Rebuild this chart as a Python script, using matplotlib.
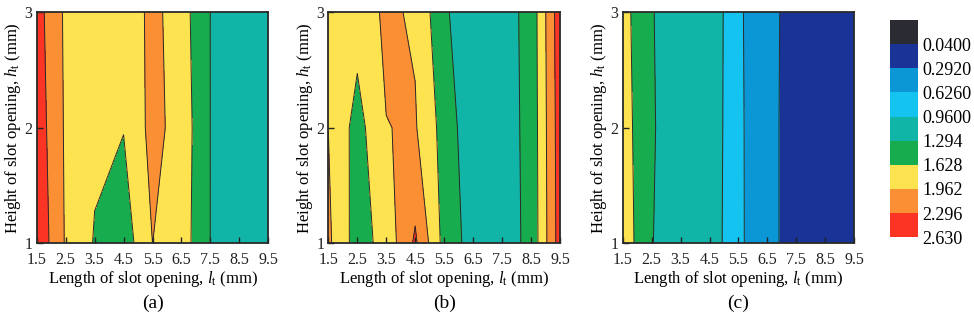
import numpy as np
import matplotlib
matplotlib.use('Agg')
import matplotlib.pyplot as plt

# Fuente tipo Times para todo el texto
plt.rcParams['font.family'] = 'Liberation Serif'
plt.rcParams['mathtext.fontset'] = 'custom'
plt.rcParams['mathtext.rm'] = 'Liberation Serif'
plt.rcParams['mathtext.it'] = 'Liberation Serif:italic'

# Ejes de la malla: longitud l_t (mm) y altura h_t (mm) de la apertura de ranura
lengths = [1.5, 2.5, 3.5, 4.5, 5.5, 6.5, 7.5, 8.5, 9.5]
heights = [1, 2, 3]

z_a = [[2.566, 1.930, 1.605, 1.44, 1.963, 1.794, 1.29, 1.10, 1.05],
       [2.492, 1.916, 1.687, 1.64, 2.069, 1.826, 1.29, 1.10, 1.05],
       [2.434, 1.904, 1.75, 1.70, 2.064, 1.773, 1.29, 1.10, 1.05]]

z_b = [[2.025, 1.478, 1.751, 2.35, 1.515, 1.153, 1.155, 1.369, 2.45],
       [1.96, 1.50, 1.955, 1.99, 1.50, 1.05, 1.15, 1.385, 2.47],
       [1.85, 1.772, 2.02, 1.92, 1.35, 1.04, 1.15, 1.40, 2.50]]

z_c = [[1.831, 1.31, 1.05, 1.16, 0.70, 0.33, 0.235, 0.15, 0.10],
       [1.782, 1.33, 1.07, 1.18, 0.70, 0.32, 0.25, 0.15, 0.10],
       [1.748, 1.32, 1.03, 1.20, 0.69, 0.314, 0.262, 0.16, 0.11]]

panels = [z_a, z_b, z_c]
panel_names = ['(a)', '(b)', '(c)']

# Niveles de la barra de color
levels = [-0.294, 0.04, 0.292, 0.626, 0.96, 1.294, 1.628, 1.962, 2.296, 2.630]
level_labels = ['0.0400', '0.2920', '0.6260', '0.9600', '1.294',
                '1.628', '1.962', '2.296', '2.630']
colors = ['#2b2b33', '#1a3396', '#0b96d6', '#14c3f0', '#10b5a8',
          '#17ad4f', '#fde350', '#fb8f34', '#fb3424']

X, Y = np.meshgrid(lengths, heights)

fig = plt.figure(figsize=(9.74, 3.2), dpi=100)
lefts = [0.0377, 0.3371, 0.6393]

for left, z, name in zip(lefts, panels, panel_names):
    ax = fig.add_axes([left, 0.2397, 0.2378, 0.7219])
    Z = np.array(z)
    cs = ax.contourf(X, Y, Z, levels=levels, colors=colors)
    ax.contour(X, Y, Z, levels=levels, colors='#2a2a2a', linewidths=0.7)
    ax.set_xlim(1.5, 9.5)
    ax.set_ylim(1, 3)
    ax.set_xticks(lengths)
    ax.set_xticklabels([str(v) for v in lengths])
    ax.set_yticks(heights)
    ax.tick_params(direction='in', length=4, width=1, labelsize=11.5, colors='#222222')
    ax.tick_params(axis='x', pad=6)
    ax.tick_params(axis='y', pad=3)
    for sp in ax.spines.values():
        sp.set_linewidth(1.3)
        sp.set_color('#2a2a2a')
    ax.set_xlabel(r'Length of slot opening, $l_\mathrm{t}$ (mm)', fontsize=12, labelpad=1)
    ax.set_ylabel(r'Height of slot opening, $h_\mathrm{t}$ (mm)', fontsize=12, labelpad=1)
    ax.text(0.5, -0.258, name, transform=ax.transAxes, ha='center', va='center', fontsize=14)

# Barra de color, valores bajos arriba
cax = fig.add_axes([0.9138, 0.259, 0.0287, 0.678])
cb = fig.colorbar(cs, cax=cax, ticks=levels[1:])
cax.invert_yaxis()
cb.set_ticklabels(level_labels)
cb.outline.set_visible(False)
cax.tick_params(length=0, labelsize=13, pad=3)

plt.savefig('out.png', dpi=100)
